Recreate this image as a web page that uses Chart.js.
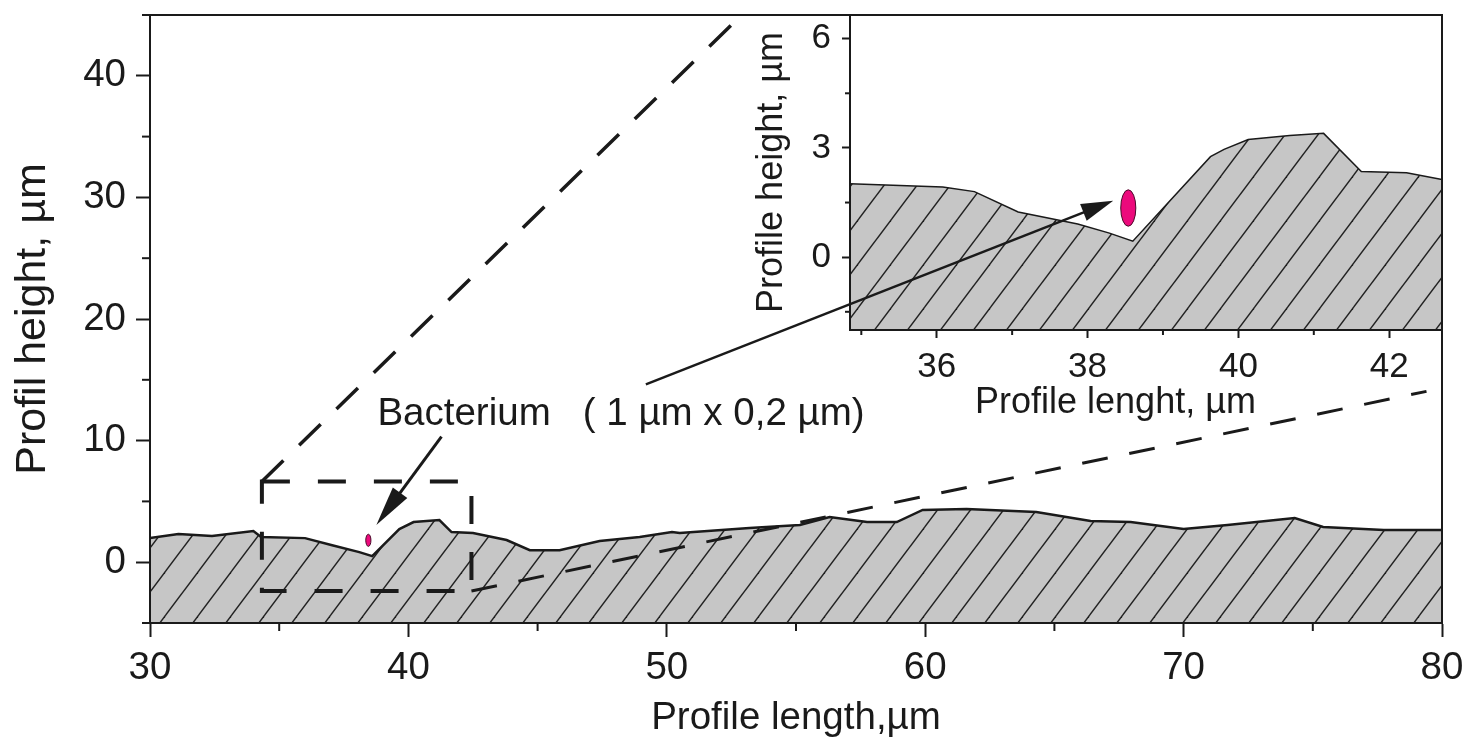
<!DOCTYPE html>
<html>
<head>
<meta charset="utf-8">
<script src="https://cdn.jsdelivr.net/npm/chart.js"></script>
<style>
  html, body { margin: 0; padding: 0; background: #fff; }
  #wrap { position: relative; width: 1468px; height: 743px; }
  #wrap canvas { position: absolute; left: 0; top: 0; }
</style>
</head>
<body>
<div id="wrap">
  <canvas id="mainChart" width="1468" height="743"></canvas>
  <canvas id="insetChart" width="1468" height="743"></canvas>
</div>
<script>
// whole profile (µm)
const profileX = [30, 31.1, 32.4, 34.0, 34.3, 36.0, 37.05, 38.1, 38.6, 39.65, 40.2, 41.2, 41.67, 42.5,
  43.8, 44.7, 45.85, 47.4, 48.95, 50.2, 50.5, 53.2, 55.15, 56.3, 57.75, 58.9, 59.9, 61.6, 64.3,
  66.4, 67.95, 70.0, 71.7, 74.3, 75.4, 77.75, 80];
const profileY = [1.98, 2.31, 2.15, 2.56, 2.07, 1.98, 1.40, 0.83, 0.50, 2.73, 3.3, 3.47, 2.48, 2.4,
  1.82, 0.99, 0.99, 1.74, 2.07, 2.48, 2.4, 2.81, 3.06, 3.72, 3.3, 3.3, 4.3, 4.38, 4.13,
  3.39, 3.3, 2.73, 3.06, 3.64, 2.89, 2.64, 2.64];

// zoomed part of the profile (inset)
const zoomX = [34.83, 36.08, 36.5, 37.08, 37.87, 38.29, 38.6, 39.63, 39.81, 40.13, 40.68, 41.13, 41.63, 42.23, 42.7];
const zoomY = [2.02, 1.93, 1.8, 1.24, 0.91, 0.66, 0.44, 2.76, 2.96, 3.23, 3.34, 3.40, 2.35, 2.32, 2.13];

// ticks
const mainXTicks = [30, 40, 50, 60, 70, 80];
const mainXMinor = [35, 45, 55, 65, 75];
const mainYTicks = [0, 10, 20, 30, 40];
const mainYMinor = [-5, 5, 15, 25, 35, 45];
const zoomXTicks = [36, 38, 40, 42];
const zoomXMinor = [35, 37, 39, 41];
const zoomYTicks = [0, 3, 6];
const zoomYMinor = [-1.5, 1.5, 4.5];

// bacterium (µm)
const bactMain = [38.45, 1.8];
const bactZoom = [38.54, 1.35];
const bactSize = [0.2, 1];

// annotations, in axis units
const zoomBox = [34.33, -2.37, 42.44, 6.64];
const dashUpperEnd = [52.9, 45];
const dashLowerEnd = [79.4, 14.05];
const arrow1 = [41.28, 10.33, 38.76, 3.06];
const arrow2Start = [49.19, 14.63];   // main axes
const arrow2End = [38.34, 1.55];      // inset axes
const labelPos = [38.8, 12.15];
const labelText = 'Bacterium   ( 1 µm x 0,2 µm)';
const insetTitleX = 38.37;            // inset axes, centre of the x title

const FONT = '"Liberation Sans", Arial, sans-serif';
const INK = '#1a1a1a';

function makeHatch() {
  const w = 33, h = 44;
  const c = document.createElement('canvas');
  c.width = w; c.height = h;
  const g = c.getContext('2d');
  g.fillStyle = '#c6c6c6';
  g.fillRect(0, 0, w, h);
  g.strokeStyle = '#222';
  g.lineWidth = 1.4;
  for (let k = -1; k <= 1; k++) {
    g.beginPath();
    g.moveTo(k * w - w, 2 * h);
    g.lineTo(k * w + 2 * w, -h);
    g.stroke();
  }
  return g.createPattern(c, 'repeat');
}
const hatch = makeHatch();

function arrow(ctx, x0, y0, x1, y1, headLen, headW, lw) {
  const a = Math.atan2(y1 - y0, x1 - x0);
  const bx = x1 - headLen * Math.cos(a), by = y1 - headLen * Math.sin(a);
  ctx.lineWidth = lw;
  ctx.beginPath(); ctx.moveTo(x0, y0); ctx.lineTo(bx + Math.cos(a), by + Math.sin(a)); ctx.stroke();
  ctx.beginPath();
  ctx.moveTo(x1, y1);
  ctx.lineTo(bx + headW / 2 * Math.sin(a), by - headW / 2 * Math.cos(a));
  ctx.lineTo(bx - headW / 2 * Math.sin(a), by + headW / 2 * Math.cos(a));
  ctx.closePath();
  ctx.fill();
}

function bacterium(chart, pos) {
  const {x, y} = chart.scales, ctx = chart.ctx;
  const cx = x.getPixelForValue(pos[0]), cy = y.getPixelForValue(pos[1]);
  const rx = Math.abs(x.getPixelForValue(pos[0] + bactSize[0] / 2) - cx);
  const ry = Math.abs(y.getPixelForValue(pos[1] + bactSize[1] / 2) - cy);
  ctx.save();
  ctx.beginPath();
  ctx.ellipse(cx, cy, rx, ry, 0, 0, Math.PI * 2);
  ctx.fillStyle = '#ec0a7c';
  ctx.fill();
  ctx.strokeStyle = '#4a0a2a';
  ctx.lineWidth = 1;
  ctx.stroke();
  ctx.restore();
}

function minorTicks(chart, id, values, len) {
  const s = chart.scales[id], ctx = chart.ctx;
  ctx.save();
  ctx.strokeStyle = INK;
  ctx.lineWidth = 2;
  values.forEach(v => {
    const p = s.getPixelForValue(v);
    ctx.beginPath();
    if (s.isHorizontal()) { ctx.moveTo(p, s.top); ctx.lineTo(p, s.top + len); }
    else { ctx.moveTo(s.right, p); ctx.lineTo(s.right - len, p); }
    ctx.stroke();
  });
  ctx.restore();
}

function frame(chart) {
  const a = chart.chartArea, ctx = chart.ctx;
  ctx.save();
  ctx.strokeStyle = INK;
  ctx.lineWidth = 2;
  ctx.strokeRect(a.left, a.top, a.right - a.left, a.bottom - a.top);
  ctx.restore();
}

// fixed axis boxes so the plot area lands where the figure has it
function fixX(h) { return s => { s.height = h; s.paddingLeft = 0; s.paddingRight = 0; }; }
function fixY(w) { return s => { s.width = w; s.paddingTop = 0; s.paddingBottom = 0; }; }

const mainOverlay = {
  id: 'mainOverlay',
  afterDraw(chart) {
    const {x, y} = chart.scales, ctx = chart.ctx;
    const px = v => x.getPixelForValue(v), py = v => y.getPixelForValue(v);
    frame(chart);
    minorTicks(chart, 'x', mainXMinor, 8);
    minorTicks(chart, 'y', mainYMinor, 8);

    ctx.save();
    ctx.strokeStyle = INK;
    ctx.fillStyle = INK;
    ctx.lineCap = 'butt';
    // dashed zoom box
    const x0 = px(zoomBox[0]), y0 = py(zoomBox[3]), x1 = px(zoomBox[2]), y1 = py(zoomBox[1]);
    ctx.lineWidth = 4;
    ctx.setLineDash([28, 28]);
    ctx.strokeRect(x0, y0, x1 - x0, y1 - y0);
    // leader lines to the inset
    ctx.lineWidth = 3.5;
    ctx.setLineDash([30, 22]);
    ctx.beginPath(); ctx.moveTo(x0, y0); ctx.lineTo(px(dashUpperEnd[0]), py(dashUpperEnd[1])); ctx.stroke();
    ctx.lineWidth = 3;
    ctx.setLineDash([26, 22]);
    ctx.beginPath(); ctx.moveTo(x1, y1); ctx.lineTo(px(dashLowerEnd[0]), py(dashLowerEnd[1])); ctx.stroke();
    ctx.setLineDash([]);
    // arrow to the bacterium
    arrow(ctx, px(arrow1[0]), py(arrow1[1]), px(arrow1[2]), py(arrow1[3]), 40, 18, 3);
    // label
    ctx.font = '38.5px ' + FONT;
    ctx.textAlign = 'left';
    ctx.textBaseline = 'middle';
    ctx.fillText(labelText, px(labelPos[0]), py(labelPos[1]));
    ctx.restore();
    bacterium(chart, bactMain);
  }
};

function axisFont(size) { return {family: FONT, size: size}; }

const mainChart = new Chart(document.getElementById('mainChart'), {
  type: 'line',
  data: {
    datasets: [{
      data: profileX.map((v, i) => ({x: v, y: profileY[i]})),
      borderColor: INK,
      borderWidth: 2.5,
      pointRadius: 0,
      tension: 0,
      fill: 'start',
      backgroundColor: hatch
    }]
  },
  options: {
    responsive: false,
    animation: false,
    devicePixelRatio: 1,
    layout: {padding: {top: 15, right: 26, left: 0, bottom: 0}},
    plugins: {legend: {display: false}, tooltip: {enabled: false}},
    scales: {
      x: {
        type: 'linear', min: 30, max: 80,
        afterFit: fixX(120),
        afterBuildTicks: s => { s.ticks = mainXTicks.map(v => ({value: v})); },
        ticks: {font: axisFont(38.5), color: INK, padding: 8, maxRotation: 0, autoSkip: false},
        grid: {drawOnChartArea: false, tickLength: 14, tickWidth: 2, tickColor: INK},
        border: {color: INK, width: 2},
        title: {display: true, text: 'Profile length,µm', color: INK, font: axisFont(38.5), padding: {top: 0, bottom: 2}}
      },
      y: {
        type: 'linear', min: -5, max: 45,
        afterFit: fixY(150),
        afterBuildTicks: s => { s.ticks = mainYTicks.map(v => ({value: v})); },
        ticks: {font: axisFont(38.5), color: INK, padding: 10, autoSkip: false},
        grid: {drawOnChartArea: false, tickLength: 14, tickWidth: 2, tickColor: INK},
        border: {color: INK, width: 2},
        title: {display: true, text: 'Profil height, µm', color: INK, font: axisFont(43), padding: {top: 7, bottom: 0}}
      }
    }
  },
  plugins: [mainOverlay]
});

const insetOverlay = {
  id: 'insetOverlay',
  beforeDraw(chart) {
    const a = chart.chartArea, ctx = chart.ctx;
    ctx.save();
    ctx.fillStyle = '#fff';
    ctx.fillRect(a.left, a.top, a.right - a.left, a.bottom - a.top);
    ctx.restore();
  },
  afterDraw(chart) {
    const {x, y} = chart.scales, ctx = chart.ctx;
    frame(chart);
    minorTicks(chart, 'x', zoomXMinor, 5);
    minorTicks(chart, 'y', zoomYMinor, 5);
    bacterium(chart, bactZoom);
    const m = mainChart.scales;
    ctx.save();
    ctx.strokeStyle = INK;
    ctx.fillStyle = INK;
    arrow(ctx, m.x.getPixelForValue(arrow2Start[0]), m.y.getPixelForValue(arrow2Start[1]),
      x.getPixelForValue(arrow2End[0]), y.getPixelForValue(arrow2End[1]), 32, 18, 2.5);
    // x title of the inset, set off-centre as in the figure
    ctx.font = '36px ' + FONT;
    ctx.textAlign = 'center';
    ctx.textBaseline = 'middle';
    ctx.fillText('Profile lenght, µm', x.getPixelForValue(insetTitleX), x.bottom - 27);
    ctx.restore();
  }
};

new Chart(document.getElementById('insetChart'), {
  type: 'line',
  data: {
    datasets: [{
      data: zoomX.map((v, i) => ({x: v, y: zoomY[i]})),
      borderColor: INK,
      borderWidth: 1.5,
      pointRadius: 0,
      tension: 0,
      fill: 'start',
      backgroundColor: hatch
    }]
  },
  options: {
    responsive: false,
    animation: false,
    devicePixelRatio: 1,
    layout: {padding: {top: 15, right: 26, left: 740, bottom: 313}},
    plugins: {legend: {display: false}, tooltip: {enabled: false}},
    scales: {
      x: {
        type: 'linear', min: 34.85, max: 42.7,
        afterFit: fixX(100),
        afterBuildTicks: s => { s.ticks = zoomXTicks.map(v => ({value: v})); },
        ticks: {font: axisFont(35), color: INK, padding: 8, maxRotation: 0, autoSkip: false},
        grid: {drawOnChartArea: false, tickLength: 8, tickWidth: 2, tickColor: INK},
        border: {color: INK, width: 2},
        title: {display: false}
      },
      y: {
        type: 'linear', min: -2, max: 6.65,
        afterFit: fixY(110),
        afterBuildTicks: s => { s.ticks = zoomYTicks.map(v => ({value: v})); },
        ticks: {font: axisFont(35), color: INK, padding: 11, autoSkip: false},
        grid: {drawOnChartArea: false, tickLength: 8, tickWidth: 2, tickColor: INK},
        border: {color: INK, width: 2},
        title: {display: true, text: 'Profile height, µm', color: INK, font: axisFont(36), padding: {top: 10, bottom: 0}}
      }
    }
  },
  plugins: [insetOverlay]
});
</script>
</body>
</html>
